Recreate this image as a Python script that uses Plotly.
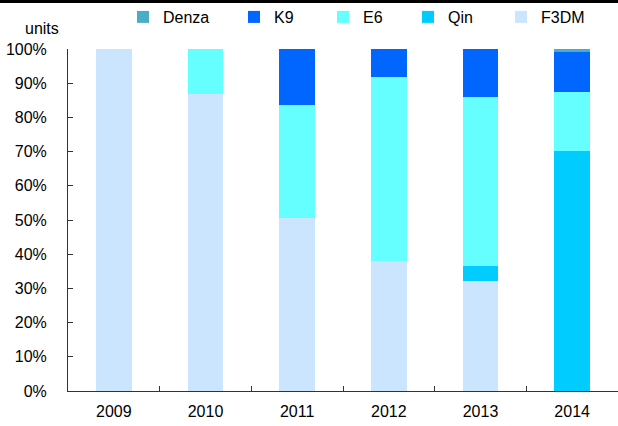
import plotly.graph_objects as go

years = ["2009", "2010", "2011", "2012", "2013", "2014"]
f3dm = [100.0, 86.8, 50.6, 38.0, 32.2, 0.0]
qin = [0.0, 0.0, 0.0, 0.0, 4.4, 70.2]
e6 = [0.0, 13.2, 33.0, 53.7, 49.5, 17.1]
k9 = [0.0, 0.0, 16.4, 8.3, 13.9, 11.8]
denza = [0.0, 0.0, 0.0, 0.0, 0.0, 0.9]

# (name, values, colour, legend id, x of legend text in the reference)
series = [
    ("F3DM", f3dm, "#CCE5FF", "legend5", 539),
    ("Qin", qin, "#00CCFF", "legend4", 446),
    ("E6", e6, "#66FFFF", "legend3", 361),
    ("K9", k9, "#0066FF", "legend2", 272),
    ("Denza", denza, "#4BACC6", "legend", 161),
]

FONT = "Liberation Sans, Arial"
FS = 16
L, R, T, B = 68, 0, 49, 35
W, H = 618, 426
pw = W - L - R
ph = H - T - B

fig = go.Figure()
layout_legends = {}
for name, vals, color, lg, px in series:
    fig.add_trace(go.Bar(
        x=years, y=vals, name=name, marker=dict(color=color, line=dict(width=0)),
        width=0.39, legend=lg,
    ))
    layout_legends[lg] = dict(
        x=(px - 38 - L) / pw, xanchor="left",
        y=(H - B - 17) / ph, yanchor="middle",
        orientation="h", bgcolor="rgba(0,0,0,0)",
        font=dict(family=FONT, size=FS, color="#000"),
        itemwidth=30, tracegroupgap=0,
    )

fig.update_layout(
    barmode="stack",
    width=W, height=H,
    margin=dict(l=L, r=R, t=T, b=B, autoexpand=False),
    paper_bgcolor="white", plot_bgcolor="white",
    font=dict(family=FONT, size=FS, color="#000"),
    showlegend=True,
    **layout_legends,
)
fig.update_xaxes(
    type="category", showgrid=False, showline=True, linecolor="#333", linewidth=1,
    ticks="inside", tickson="boundaries", ticklen=5, tickcolor="#333",
    ticklabelstandoff=6,
)
fig.update_yaxes(
    range=[0, 100], dtick=10, ticksuffix="%", showgrid=False, zeroline=False,
    showline=True, linecolor="#333", linewidth=1,
    ticks="inside", ticklen=5, tickcolor="#333", ticklabelstandoff=17,
)
fig.add_annotation(
    text="units", xref="paper", yref="paper",
    x=(42 - L) / pw, y=(H - B - 28) / ph, showarrow=False,
    xanchor="center", yanchor="middle",
    font=dict(family=FONT, size=FS, color="#000"),
)
# thick rule along the top edge of the figure
fig.add_shape(
    type="line", xref="paper", yref="paper",
    x0=-L / pw, x1=1, y0=(H - B - 1.5) / ph, y1=(H - B - 1.5) / ph,
    line=dict(color="#000", width=3), layer="above",
)
fig.write_html(
    "out.html",
    config={"displayModeBar": False},
    post_script="document.body.style.margin='0px';",
)
